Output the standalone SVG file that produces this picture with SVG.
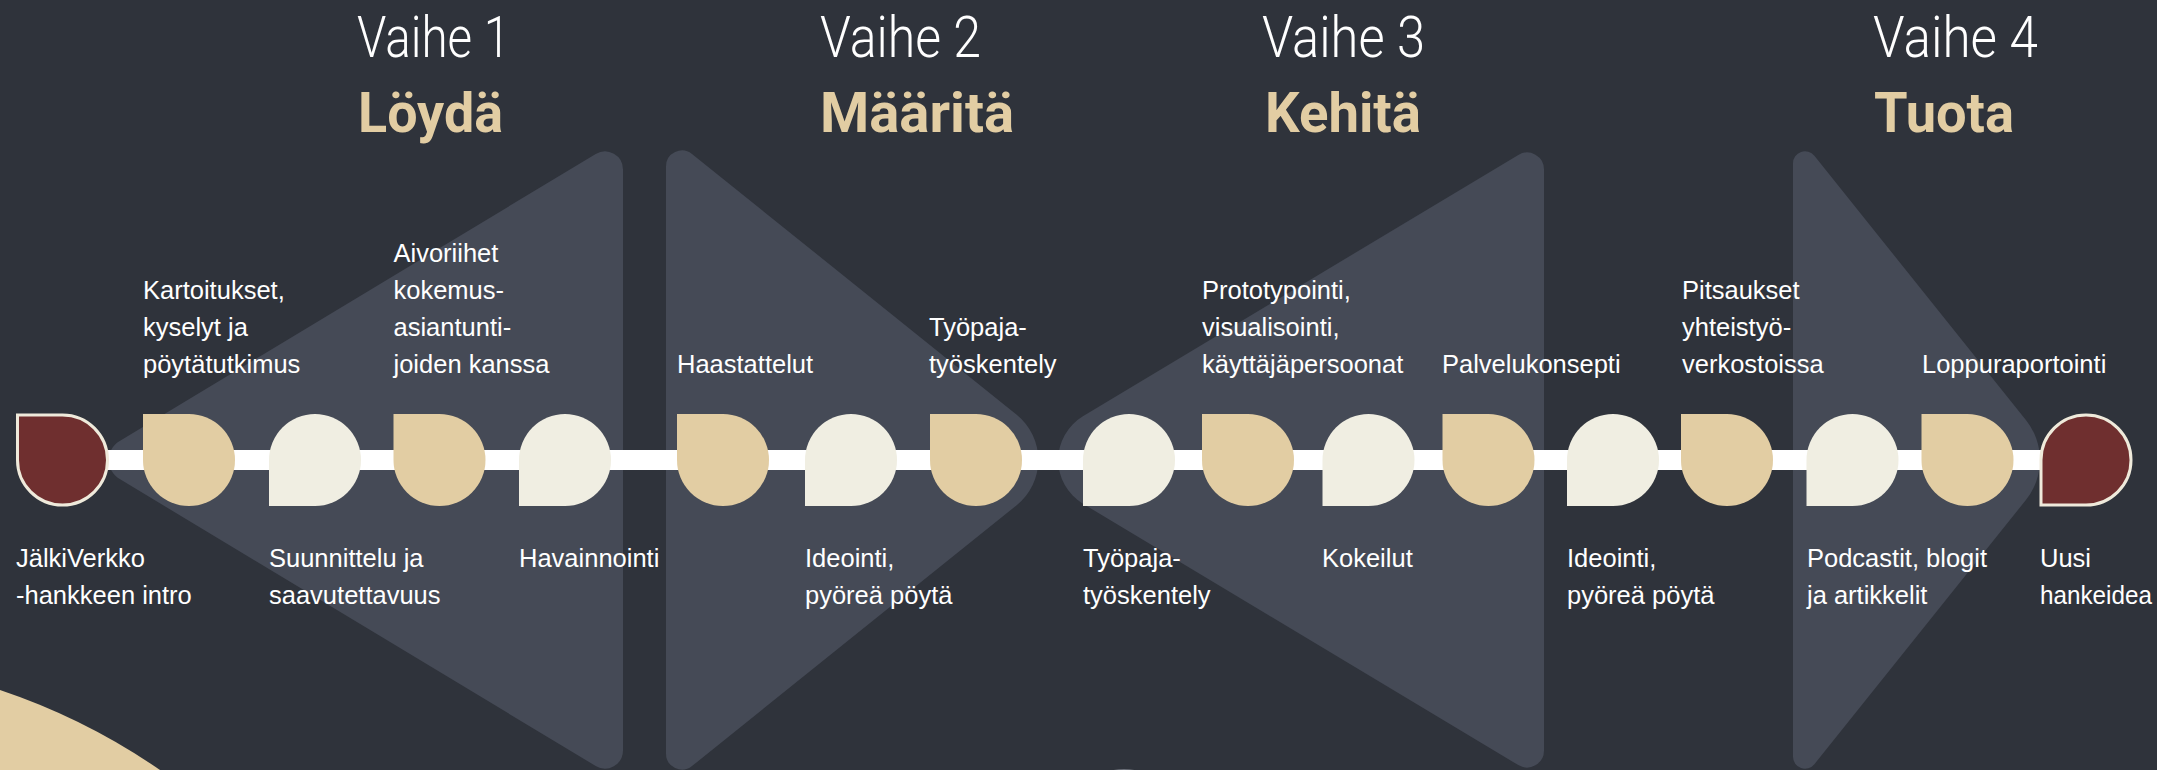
<svg xmlns="http://www.w3.org/2000/svg" xmlns:xlink="http://www.w3.org/1999/xlink" width="2157" height="770" viewBox="0 0 2157 770">
  <style>
    .bg { fill: #2f333b; }
    .band { fill: #454a56; }
    .tan { fill: #e2cda3; }
    .cream { fill: #f0eee2; }
    .red { fill: #6f2f2f; stroke: #efeadb; stroke-width: 3; }
    .lbl { font-family: "Liberation Sans", Arial, sans-serif; font-size: 25.5px; fill: #ffffff; }
    .phase { font-family: Roboto, "Liberation Sans", sans-serif; font-size: 57px; font-weight: 300; fill: #ffffff; }
    .title { font-family: Roboto, "Liberation Sans", sans-serif; font-size: 56px; font-weight: 700; fill: #e2cda3; }
    .bar { fill: #ffffff; }
  </style>
  <defs>
    <path id="nd-a" d="M0,-46 H46 A46,46 0 0 1 92,0 A46,46 0 0 1 46,46 A46,46 0 0 1 0,0 Z"/>
    <path id="nd-b" d="M0,0 A46,46 0 0 1 46,-46 A46,46 0 0 1 92,0 A46,46 0 0 1 46,46 H0 Z"/>
    <path id="nd-ra" d="M0,-45 H45 A45,45 0 0 1 90,0 A45,45 0 0 1 45,45 A45,45 0 0 1 0,0 Z"/>
    <path id="nd-rb" d="M0,0 A45,45 0 0 1 45,-45 A45,45 0 0 1 90,0 A45,45 0 0 1 45,45 H0 Z"/>
  </defs>

  <rect class="bg" x="0" y="0" width="2157" height="770"/>

  <g id="backdrop">
    <path class="band" d="M623,169.4 L623,750.6 A18,18 0 0 1 595.7,766 L119.3,478.8 A22,22 0 0 1 119.3,441.2 L595.7,154 A18,18 0 0 1 623,169.4 Z"/>
    <path class="band" d="M692,153.9 L1016.7,414.8 A58,58 0 0 1 1016.7,505.2 L692,766.1 A16,16 0 0 1 666,753.6 L666,166.4 A16,16 0 0 1 692,153.9 Z"/>
    <path class="band" d="M1544,169.5 L1544,750.5 A17,17 0 0 1 1518.3,765.1 L1082.9,503.7 A51,51 0 0 1 1082.9,416.3 L1518.3,154.9 A17,17 0 0 1 1544,169.5 Z"/>
    <path class="band" d="M1814.4,155.8 L2025.9,420 A64,64 0 0 1 2025.9,500 L1814.4,764.2 A12,12 0 0 1 1793,756.7 L1793,163.3 A12,12 0 0 1 1814.4,155.8 Z"/>
    <path class="tan" d="M0,690 A641,641 0 0 1 160,770 L0,770 Z"/>
    <ellipse cx="1124" cy="776" rx="20" ry="7" fill="#6b6f78"/>
  </g>

  <g id="phases">
    <g id="phase-1">
      <text class="phase" x="357" y="57" textLength="153" lengthAdjust="spacingAndGlyphs">Vaihe 1</text>
      <text class="title" x="358" y="132" textLength="145" lengthAdjust="spacingAndGlyphs">Löydä</text>
    </g>
    <g id="phase-2">
      <text class="phase" x="820" y="57" textLength="161" lengthAdjust="spacingAndGlyphs">Vaihe 2</text>
      <text class="title" x="820" y="132" textLength="194" lengthAdjust="spacingAndGlyphs">Määritä</text>
    </g>
    <g id="phase-3">
      <text class="phase" x="1262" y="57" textLength="163" lengthAdjust="spacingAndGlyphs">Vaihe 3</text>
      <text class="title" x="1265" y="132" textLength="156" lengthAdjust="spacingAndGlyphs">Kehitä</text>
    </g>
    <g id="phase-4">
      <text class="phase" x="1873" y="57" textLength="165" lengthAdjust="spacingAndGlyphs">Vaihe 4</text>
      <text class="title" x="1874" y="132" textLength="140" lengthAdjust="spacingAndGlyphs">Tuota</text>
    </g>
  </g>

  <g id="connectors">
    <rect class="bar" x="100" y="450" width="1945" height="20"/>
  </g>

  <g id="node-1">
    <use xlink:href="#nd-ra" class="red" x="17.5" y="460"/>
    <text class="lbl" x="16" y="567">JälkiVerkko</text>
    <text class="lbl" x="16" y="604">-hankkeen intro</text>
  </g>
  <g id="node-2">
    <use xlink:href="#nd-a" class="tan" x="143" y="460"/>
    <text class="lbl" x="143" y="299">Kartoitukset,</text>
    <text class="lbl" x="143" y="336">kyselyt ja</text>
    <text class="lbl" x="143" y="373">pöytätutkimus</text>
  </g>
  <g id="node-3">
    <use xlink:href="#nd-b" class="cream" x="269" y="460"/>
    <text class="lbl" x="269" y="567">Suunnittelu ja</text>
    <text class="lbl" x="269" y="604">saavutettavuus</text>
  </g>
  <g id="node-4">
    <use xlink:href="#nd-a" class="tan" x="393.5" y="460"/>
    <text class="lbl" x="393.5" y="262">Aivoriihet</text>
    <text class="lbl" x="393.5" y="299">kokemus-</text>
    <text class="lbl" x="393.5" y="336">asiantunti-</text>
    <text class="lbl" x="393.5" y="373">joiden kanssa</text>
  </g>
  <g id="node-5">
    <use xlink:href="#nd-b" class="cream" x="519" y="460"/>
    <text class="lbl" x="519" y="567">Havainnointi</text>
  </g>
  <g id="node-6">
    <use xlink:href="#nd-a" class="tan" x="677" y="460"/>
    <text class="lbl" x="677" y="373">Haastattelut</text>
  </g>
  <g id="node-7">
    <use xlink:href="#nd-b" class="cream" x="805" y="460"/>
    <text class="lbl" x="805" y="567">Ideointi,</text>
    <text class="lbl" x="805" y="604">pyöreä pöytä</text>
  </g>
  <g id="node-8">
    <use xlink:href="#nd-a" class="tan" x="930" y="460"/>
    <text class="lbl" x="929" y="336">Työpaja-</text>
    <text class="lbl" x="929" y="373">työskentely</text>
  </g>
  <g id="node-9">
    <use xlink:href="#nd-b" class="cream" x="1083" y="460"/>
    <text class="lbl" x="1083" y="567">Työpaja-</text>
    <text class="lbl" x="1083" y="604">työskentely</text>
  </g>
  <g id="node-10">
    <use xlink:href="#nd-a" class="tan" x="1202" y="460"/>
    <text class="lbl" x="1202" y="299">Prototypointi,</text>
    <text class="lbl" x="1202" y="336">visualisointi,</text>
    <text class="lbl" x="1202" y="373">käyttäjäpersoonat</text>
  </g>
  <g id="node-11">
    <use xlink:href="#nd-b" class="cream" x="1322.5" y="460"/>
    <text class="lbl" x="1322" y="567">Kokeilut</text>
  </g>
  <g id="node-12">
    <use xlink:href="#nd-a" class="tan" x="1442.5" y="460"/>
    <text class="lbl" x="1442" y="373">Palvelukonsepti</text>
  </g>
  <g id="node-13">
    <use xlink:href="#nd-b" class="cream" x="1567" y="460"/>
    <text class="lbl" x="1567" y="567">Ideointi,</text>
    <text class="lbl" x="1567" y="604">pyöreä pöytä</text>
  </g>
  <g id="node-14">
    <use xlink:href="#nd-a" class="tan" x="1681" y="460"/>
    <text class="lbl" x="1682" y="299">Pitsaukset</text>
    <text class="lbl" x="1682" y="336">yhteistyö-</text>
    <text class="lbl" x="1682" y="373">verkostoissa</text>
  </g>
  <g id="node-15">
    <use xlink:href="#nd-b" class="cream" x="1806.5" y="460"/>
    <text class="lbl" x="1807" y="567">Podcastit, blogit</text>
    <text class="lbl" x="1807" y="604">ja artikkelit</text>
  </g>
  <g id="node-16">
    <use xlink:href="#nd-a" class="tan" x="1921.5" y="460"/>
    <text class="lbl" x="1922" y="373">Loppuraportointi</text>
  </g>
  <g id="node-17">
    <use xlink:href="#nd-rb" class="red" x="2041" y="460"/>
    <text class="lbl" x="2040" y="567">Uusi</text>
    <text class="lbl" x="2040" y="604" textLength="112" lengthAdjust="spacingAndGlyphs">hankeidea</text>
  </g>
</svg>
